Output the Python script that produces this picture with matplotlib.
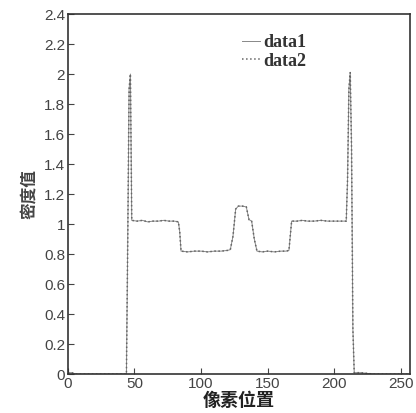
import numpy as np
import matplotlib
matplotlib.use("Agg")
from matplotlib import pyplot as plt

# pixel positions and density values (corners + small wobble)
pix = [0, 3, 6, 10, 20, 30, 40, 43, 44, 45, 46, 47, 48, 52, 56, 60, 64, 68, 72, 76, 80, 83, 84,
       85, 90, 95, 100, 105, 110, 115, 120, 122, 124, 126, 128, 131, 134, 136, 138, 140, 142,
       146, 150, 155, 160, 164, 166, 168, 172, 176, 180, 185, 190, 195, 200, 205, 209, 210,
       211, 212, 213, 214, 215, 220, 230, 240, 250, 256]
dens1 = [0.01, 0.01, 0.0, 0.0, 0.0, 0.0, 0.0, 0.0, 0.0, 0.9, 1.9, 2.0, 1.025, 1.02, 1.025, 1.015,
         1.02, 1.02, 1.025, 1.02, 1.02, 1.015, 0.95,
         0.82, 0.815, 0.82, 0.82, 0.815, 0.82, 0.82, 0.825, 0.83, 0.92, 1.10, 1.12, 1.12, 1.115,
         1.03, 1.02, 0.90, 0.82,
         0.815, 0.82, 0.815, 0.82, 0.82, 0.825, 1.02, 1.02, 1.025, 1.02, 1.02, 1.025, 1.02, 1.02,
         1.02, 1.02, 1.3,
         1.9, 2.01, 1.5, 0.3, 0.01, 0.01, 0.0, 0.0, 0.0, 0.0]
dens2 = dens1

plt.rcParams['font.family'] = ['Liberation Sans', 'DejaVu Sans']

fig = plt.figure(figsize=(4.16, 4.13), dpi=100)
ax = fig.add_axes([0.163, 0.094, 0.823, 0.872])

ax.plot(pix, dens1, '-', color='#888888', lw=0.7, label='data1')
ax.plot(pix, dens2, ':', color='#666666', lw=1.1, label='data2')

ax.set_xlim(0, 257)
ax.set_ylim(0, 2.4)
ax.set_xticks([0, 50, 100, 150, 200, 250])
yt = np.round(np.arange(0, 2.41, 0.2), 1)
ax.set_yticks(yt)
ax.set_yticklabels(['%g' % v for v in yt])
ax.tick_params(direction='in', length=4, labelsize=11, colors='#444444', pad=2)
for s in ax.spines.values():
    s.set_linewidth(1.2)
    s.set_color('#333333')

ax.set_xlabel('像素位置', family=['Noto Sans CJK SC'], fontsize=13, fontweight='bold',
              color='#222222', labelpad=0)
ax.set_ylabel('密度值', family=['Noto Sans CJK SC'], fontsize=12, fontweight='bold',
              color='#444444', labelpad=4)

leg = ax.legend(loc='upper left', bbox_to_anchor=(0.46, 0.99), frameon=False,
                prop={'family': 'Liberation Serif', 'size': 13, 'weight': 'bold'},
                handlelength=1.0, handletextpad=0.2, labelspacing=0.1)
for t in leg.get_texts():
    t.set_color('#333333')

fig.savefig('out.png', dpi=100)
